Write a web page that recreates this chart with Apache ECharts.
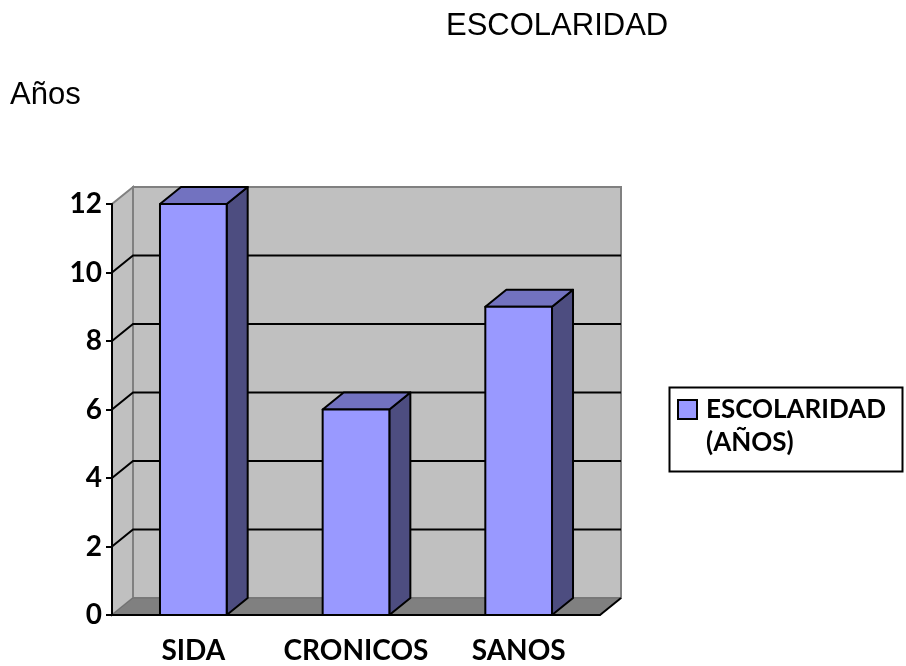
<!DOCTYPE html>
<html>
<head>
<meta charset="utf-8">
<script src="https://cdn.jsdelivr.net/npm/echarts@6/dist/echarts.min.js"></script>
<style>
  html, body { margin: 0; padding: 0; background: #fff; }
  #chart { width: 906px; height: 666px; }
</style>
</head>
<body>
<div id="chart"></div>
<script>
// datos
const categories = ['SIDA', 'CRONICOS', 'SANOS']
const values = [12, 6, 9]
const yTicks = [0, 2, 4, 6, 8, 10, 12]
const seriesName = 'ESCOLARIDAD\n(AÑOS)'

// profundidad del efecto 3D
const DX = 21
const DY = -17
const labelFont = { fontFamily: 'Lato', fontWeight: 'bold', color: '#000' }

const chart = echarts.init(document.getElementById('chart'))

// paredes, piso y lineas de cuadricula
function renderWalls (params, api) {
    const cs = params.coordSys
    const x0 = cs.x, x1 = cs.x + cs.width
    const yTop = cs.y, yBot = cs.y + cs.height
    const children = [
        { type: 'polygon', shape: { points: [[x0, yBot], [x0 + DX, yBot + DY], [x0 + DX, yTop + DY], [x0, yTop]] },
          style: { fill: '#C0C0C0', stroke: '#808080', lineWidth: 2 } },
        { type: 'rect', shape: { x: x0 + DX, y: yTop + DY, width: cs.width, height: cs.height },
          style: { fill: '#C0C0C0', stroke: '#808080', lineWidth: 2 } },
        { type: 'polygon', shape: { points: [[x0, yBot], [x1, yBot], [x1 + DX, yBot + DY], [x0 + DX, yBot + DY]] },
          style: { fill: '#808080', stroke: '#707070', lineWidth: 1 } },
        { type: 'line', shape: { x1: x1, y1: yBot, x2: x1 + DX, y2: yBot + DY },
          style: { stroke: '#000', lineWidth: 2 } },
    ]
    yTicks.forEach(t => {
        if (t === yTicks[0] || t === yTicks[yTicks.length - 1]) return
        const y = api.coord([0, t])[1]
        children.push({ type: 'polyline', shape: { points: [[x0, y], [x0 + DX, y + DY], [x1 + DX, y + DY]] },
            style: { stroke: '#000', lineWidth: 2, fill: null } })
    })
    return { type: 'group', children }
}

// barras 3D
function renderBar (params, api) {
    const p = api.coord([api.value(0), api.value(1)])
    const b = api.coord([api.value(0), 0])
    const w = api.size([1, 0])[0] * 0.41
    const l = p[0] - w / 2, r = p[0] + w / 2
    const st = { stroke: '#000', lineWidth: 2, lineJoin: 'round' }
    return {
        type: 'group',
        children: [
            { type: 'polygon', shape: { points: [[r, p[1]], [r + DX, p[1] + DY], [r + DX, b[1] + DY], [r, b[1]]] },
              style: Object.assign({ fill: '#4D4D80' }, st) },
            { type: 'polygon', shape: { points: [[l, p[1]], [r, p[1]], [r + DX, p[1] + DY], [l + DX, p[1] + DY]] },
              style: Object.assign({ fill: '#7272C0' }, st) },
            { type: 'rect', shape: { x: l, y: p[1], width: w, height: b[1] - p[1] },
              style: Object.assign({ fill: '#9999FF' }, st) },
        ]
    }
}

const option = {
    backgroundColor: '#fff',
    animation: false,
    title: [
        { text: 'ESCOLARIDAD', left: 441, top: 6,
          textStyle: { fontFamily: 'Liberation Sans', fontSize: 31, fontWeight: 'normal', color: '#000' } },
        { text: 'Años', left: 5, top: 75,
          textStyle: { fontFamily: 'Liberation Sans', fontSize: 31, fontWeight: 'normal', color: '#000' } },
    ],
    legend: {
        data: [seriesName],
        orient: 'vertical',
        left: 677,
        top: 360,
        padding: 0,
        icon: 'rect',
        itemWidth: 19,
        itemHeight: 19,
        selectedMode: false,
        // linea vacia arriba para que el icono quede junto a la primera linea
        formatter: name => '{a| }\n' + name.split('\n').map(s => '{a|' + s + '}').join('\n'),
        textStyle: Object.assign({
            fontSize: 26,
            lineHeight: 33,
            rich: { a: Object.assign({ fontSize: 26, lineHeight: 33, padding: [0, 0, 0, 4] }, labelFont) },
        }, labelFont),
    },
    graphic: [
        { type: 'rect', left: 667, top: 385, z: 0,
          shape: { width: 233, height: 84 },
          style: { fill: 'none', stroke: '#000', lineWidth: 2 } },
    ],
    grid: { left: 112, top: 204, right: 306, bottom: 51 },
    xAxis: {
        type: 'category',
        data: categories,
        z: 5,
        axisLine: { lineStyle: { color: '#000', width: 2 } },
        axisTick: { length: 7, lineStyle: { color: '#000', width: 2 } },
        axisLabel: Object.assign({ fontSize: 28, margin: 22, interval: 0 }, labelFont),
        splitLine: { show: false },
    },
    yAxis: {
        type: 'value',
        min: 0,
        max: 12,
        interval: 2,
        z: 5,
        axisLine: { show: true, lineStyle: { color: '#000', width: 2 } },
        axisTick: { show: true, length: 6, lineStyle: { color: '#000', width: 2 } },
        axisLabel: Object.assign({ fontSize: 28, margin: 10 }, labelFont),
        splitLine: { show: false },
    },
    series: [
        {
            type: 'custom',
            name: 'walls',
            z: 1,
            silent: true,
            renderItem: renderWalls,
            data: [[0, 0]],
            encode: { x: 0, y: 1 },
        },
        {
            type: 'custom',
            name: seriesName,
            z: 2,
            itemStyle: { color: '#9999FF', borderColor: '#000', borderWidth: 1 },
            renderItem: renderBar,
            data: categories.map((c, i) => [i, values[i]]),
            encode: { x: 0, y: 1 },
        },
    ],
}

chart.setOption(option)
</script>
</body>
</html>
